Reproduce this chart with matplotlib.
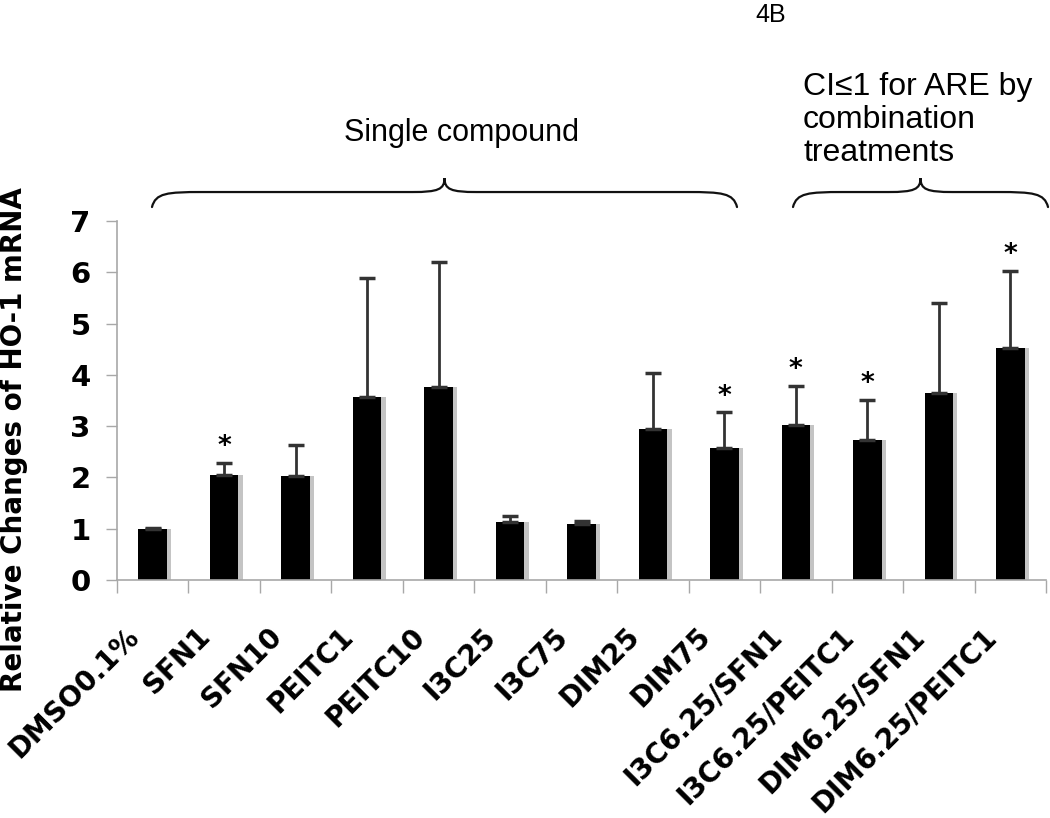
import matplotlib
matplotlib.use('Agg')
import matplotlib.pyplot as plt
import matplotlib.transforms as mtransforms
from matplotlib.path import Path
from matplotlib.patches import PathPatch
import numpy as np

categories = ['DMSO0.1%', 'SFN1', 'SFN10', 'PEITC1', 'PEITC10', 'I3C25', 'I3C75',
              'DIM25', 'DIM75', 'I3C6.25/SFN1', 'I3C6.25/PEITC1', 'DIM6.25/SFN1',
              'DIM6.25/PEITC1']
means = [1.0, 2.05, 2.03, 3.57, 3.77, 1.13, 1.10, 2.94, 2.57, 3.02, 2.73, 3.64, 4.52]
errors = [0.02, 0.23, 0.60, 2.32, 2.43, 0.12, 0.06, 1.09, 0.70, 0.76, 0.78, 1.76, 1.50]
significant = [False, True, False, False, False, False, False, False, True, True, True, False, True]

groupLabels = ['Single compound', 'CI\u22641 for ARE by\ncombination\ntreatments']

W, H = 1050, 818


def pxToData(px, py):
    # reference pixel coords -> data coords of the bar axes
    return (px - 117) / 71.46 - 0.5, (580 - py) / 51.29


def drawBrace(ax, pxStart, pxEnd, pyEnd=207, pyLine=192, pyTip=178):
    x0, yb = pxToData(pxStart, pyEnd)
    x1, _ = pxToData(pxEnd, pyEnd)
    _, yh = pxToData(0, pyLine)
    _, yt = pxToData(0, pyTip)
    xm = (x0 + x1) / 2
    d = 0.7
    d2 = 0.45
    verts = [(x0, yb),
             (x0 + 0.05, yh - 0.02), (x0 + 0.3 * d, yh), (x0 + d, yh),
             (xm - d2, yh),
             (xm - 0.2 * d2, yh), (xm, yh + 0.05), (xm, yt),
             (xm, yh + 0.05), (xm + 0.2 * d2, yh), (xm + d2, yh),
             (x1 - d, yh),
             (x1 - 0.3 * d, yh), (x1 - 0.05, yh - 0.02), (x1, yb)]
    codes = [Path.MOVETO,
             Path.CURVE4, Path.CURVE4, Path.CURVE4,
             Path.LINETO,
             Path.CURVE4, Path.CURVE4, Path.CURVE4,
             Path.CURVE4, Path.CURVE4, Path.CURVE4,
             Path.LINETO,
             Path.CURVE4, Path.CURVE4, Path.CURVE4]
    patch = PathPatch(Path(verts, codes), fill=False, lw=1.6, color='#111111',
                      clip_on=False, capstyle='round')
    ax.add_patch(patch)


def main():
    fig = plt.figure(figsize=(W / 100, H / 100), dpi=100)
    ax = fig.add_axes([117 / W, 1 - 580 / H, 929 / W, 359 / H])

    x = np.arange(len(categories))
    # soft grey shadow on the right of each bar
    ax.bar(x + 0.06, means, width=0.4, color='#c4c4c4', zorder=1)
    ax.bar(x, means, width=0.4, color='black', zorder=2)
    ax.errorbar(x, means, yerr=[np.zeros(len(errors)), errors], fmt='none',
                ecolor='#333333', elinewidth=2, capsize=6, capthick=2.5, zorder=3)

    for xi, m, e, s in zip(x, means, errors, significant):
        if s:
            ax.annotate('*', (xi, m + e), xytext=(0, 2), textcoords='offset points',
                        ha='center', va='bottom', fontsize=19, fontweight='bold',
                        family='DejaVu Sans')

    ax.set_xlim(-0.5, len(categories) - 0.5)
    ax.set_ylim(0, 7)
    ax.set_yticks(range(8))
    ax.set_yticklabels([str(v) for v in range(8)], fontsize=21, fontweight='bold',
                       family='DejaVu Sans')
    ax.tick_params(axis='y', length=8, width=1, color='#a8a8a8', pad=11)

    ax.set_xticks(x)
    ax.set_xticks(np.arange(-0.5, len(categories)), minor=True)
    ax.tick_params(axis='x', which='major', length=0, pad=0)
    ax.tick_params(axis='x', which='minor', length=9, width=1, color='#a8a8a8')
    ax.set_xticklabels(categories, rotation=45, ha='right', va='center',
                       rotation_mode='anchor', fontsize=20, fontweight='bold',
                       family='DejaVu Sans')
    offset = mtransforms.ScaledTranslation(-0.18, -0.52, fig.dpi_scale_trans)
    for lab in ax.get_xticklabels():
        lab.set_transform(lab.get_transform() + offset)

    for side in ['top', 'right']:
        ax.spines[side].set_visible(False)
    for side in ['left', 'bottom']:
        ax.spines[side].set_color('#a8a8a8')
        ax.spines[side].set_linewidth(1.2)

    ax.set_ylabel('Relative Changes of HO-1 mRNA', fontsize=20, fontweight='bold',
                  family='DejaVu Sans')
    ax.yaxis.set_label_coords(-0.096, 0.39)

    drawBrace(ax, 152, 737)
    drawBrace(ax, 793, 1048)

    fig.text(462 / W, 1 - 133 / H, groupLabels[0], ha='center', va='center',
             fontsize=22, family='Liberation Sans')
    fig.text(803 / W, 1 - 72 / H, groupLabels[1], ha='left', va='top',
             fontsize=23, family='Liberation Sans', linespacing=1.12)
    fig.text(771 / W, 1 - 15 / H, '4B', ha='center', va='center',
             fontsize=18, family='Liberation Sans')

    fig.savefig('out.png', dpi=100)
    plt.close(fig)


if __name__ == "__main__":
    main()
